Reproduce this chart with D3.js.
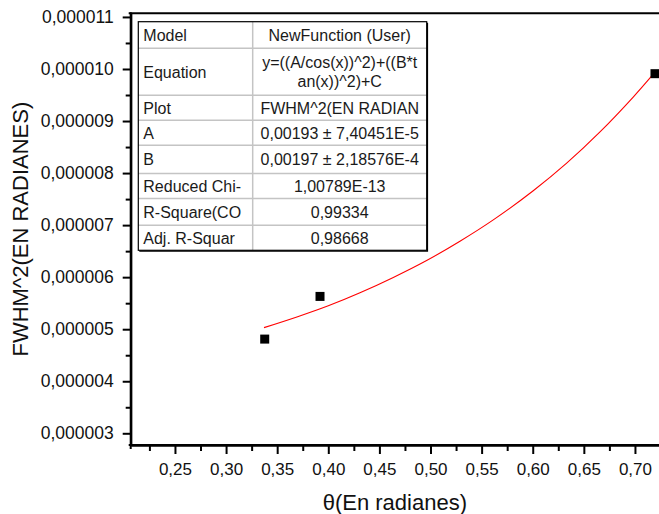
<!DOCTYPE html>
<html>
<head>
<meta charset="utf-8">
<script src="https://cdn.jsdelivr.net/npm/d3@7"></script>
<style>
  html, body { margin: 0; padding: 0; background: #fff; }
  svg { display: block; font-family: "Liberation Sans", Arial, sans-serif; }
</style>
</head>
<body>
<svg id="chart" width="659" height="514"></svg>
<script>
// Measured points: diffraction angle θ (rad) vs FWHM² (rad²)
const thetaValues = [0.3378, 0.3919, 0.7196];
const fwhmSqValues = [4.81e-6, 5.63e-6, 9.91e-6];

// Fitted curve y = (A/cos x)^2 + (B·tan x)^2 + C, sampled along the fitted range
const fitTheta = [0.3371, 0.3700, 0.4000, 0.4310, 0.4636, 0.4962, 0.5288, 0.5614, 0.6005, 0.6332, 0.6658, 0.6983, 0.7179];
const fitValues = [5.03e-6, 5.24e-6, 5.45e-6, 5.70e-6, 5.995e-6, 6.32e-6, 6.69e-6, 7.10e-6, 7.66e-6, 8.19e-6, 8.79e-6, 9.46e-6, 9.90e-6];

// Axis ticks
const xMajorTicks = [0.25, 0.30, 0.35, 0.40, 0.45, 0.50, 0.55, 0.60, 0.65, 0.70];
const xMinorTicks = [0.225, 0.275, 0.325, 0.375, 0.425, 0.475, 0.525, 0.575, 0.625, 0.675, 0.725];
const yMajorTicks = [3e-6, 4e-6, 5e-6, 6e-6, 7e-6, 8e-6, 9e-6, 10e-6, 11e-6];
const yMinorTicks = [3.5e-6, 4.5e-6, 5.5e-6, 6.5e-6, 7.5e-6, 8.5e-6, 9.5e-6, 10.5e-6];

// Fit report table
const tableLabels = ["Model", "Equation", "Plot", "A", "B", "Reduced Chi-", "R-Square(CO", "Adj. R-Squar"];
const tableValues = [
  ["NewFunction (User)"],
  ["y=((A/cos(x))^2)+((B*t", "an(x))^2)+C"],
  ["FWHM^2(EN RADIAN"],
  ["0,00193 \u00B1 7,40451E-5"],
  ["0,00197 \u00B1 2,18576E-4"],
  ["1,00789E-13"],
  ["0,99334"],
  ["0,98668"]
];

const xTitle = "\u03B8(En radianes)";
const yTitle = "FWHM^2(EN RADIANES)";

const locale = d3.formatLocale({ decimal: ",", thousands: ".", grouping: [3], currency: ["", ""] });
const fmtX = locale.format(".2f");
const fmtY = locale.format(".6f");

const svg = d3.select("#chart");

const plotLeft = 130.7, plotBottom = 445, plotTop = 13.3;
const x = d3.scaleLinear().domain([0.2067, 0.73]).range([plotLeft, plotLeft + (0.73 - 0.2067) * 1022.2]);
const y = d3.scaleLinear().domain([2.775e-6, 11.07e-6]).range([plotBottom, plotTop]);
const plotRight = x.range()[1];

// Top frame line
svg.append("line")
  .attr("x1", plotLeft - 2).attr("x2", plotRight)
  .attr("y1", plotTop).attr("y2", plotTop)
  .attr("stroke", "#000").attr("stroke-width", 2);

// X axis: minor ticks, then major ticks with labels
const gxMinor = svg.append("g").attr("transform", `translate(0,${plotBottom})`)
  .call(d3.axisBottom(x).tickValues(xMinorTicks).tickSize(6).tickSizeOuter(0).tickFormat(""));
const gx = svg.append("g").attr("transform", `translate(0,${plotBottom})`)
  .call(d3.axisBottom(x).tickValues(xMajorTicks).tickSize(9).tickSizeOuter(0).tickPadding(9).tickFormat(fmtX));

// Y axis
const gyMinor = svg.append("g").attr("transform", `translate(${plotLeft},0)`)
  .call(d3.axisLeft(y).tickValues(yMinorTicks).tickSize(5).tickSizeOuter(0).tickFormat(""));
const gy = svg.append("g").attr("transform", `translate(${plotLeft},0)`)
  .call(d3.axisLeft(y).tickValues(yMajorTicks).tickSize(8).tickSizeOuter(0).tickPadding(9).tickFormat(fmtY));

[gxMinor, gx, gyMinor, gy].forEach(g => {
  g.selectAll("path.domain").attr("stroke", "#000").attr("stroke-width", 2);
  g.selectAll(".tick line").attr("stroke", "#000").attr("stroke-width", 2);
  g.selectAll(".tick text").attr("fill", "#111")
    .style("font-family", "'Liberation Sans', Arial, sans-serif");
});
gx.selectAll(".tick text").style("font-size", "17px");
gy.selectAll(".tick text").style("font-size", "17.5px");

// Axis line extensions at the corner
svg.append("line").attr("x1", plotLeft).attr("x2", plotLeft).attr("y1", plotTop - 1).attr("y2", plotBottom + 4)
  .attr("stroke", "#000").attr("stroke-width", 2);
svg.append("line").attr("x1", plotLeft - 2).attr("x2", plotRight).attr("y1", plotBottom).attr("y2", plotBottom)
  .attr("stroke", "#000").attr("stroke-width", 2);

// Axis titles
svg.append("text")
  .attr("x", (plotLeft + 659) / 2).attr("y", 510)
  .attr("text-anchor", "middle")
  .style("font-size", "22px").attr("fill", "#111")
  .text(xTitle);

svg.append("text")
  .attr("transform", `translate(28,${(plotTop + plotBottom) / 2}) rotate(-90)`)
  .attr("text-anchor", "middle")
  .style("font-size", "22px").attr("fill", "#111")
  .text(yTitle);

// Fitted curve
const fitLine = d3.line()
  .x((d, i) => x(fitTheta[i]))
  .y(d => y(d))
  .curve(d3.curveCatmullRom.alpha(0.5));
svg.append("path")
  .datum(fitValues)
  .attr("d", fitLine)
  .attr("fill", "none")
  .attr("stroke", "#ff0000")
  .attr("stroke-width", 1.1);

// Data points as filled squares
const sq = 9;
svg.append("g").selectAll("rect")
  .data(fwhmSqValues)
  .join("rect")
  .attr("x", (d, i) => x(thetaValues[i]) - sq / 2)
  .attr("y", d => y(d) - sq / 2)
  .attr("width", sq).attr("height", sq)
  .attr("fill", "#000");

// Fit report table
const tbl = { x0: 138.3, x1: 426.7, xDiv: 252.7, y0: 21.7 };
const rowHeights = [26.6, 47.0, 25.0, 25.0, 28.3, 25.0, 26.7, 25.0];
const rowTops = [];
rowHeights.reduce((acc, h) => { rowTops.push(acc); return acc + h; }, tbl.y0);
const tblBottom = tbl.y0 + d3.sum(rowHeights);

const gt = svg.append("g");
gt.append("rect")
  .attr("x", tbl.x0).attr("y", tbl.y0)
  .attr("width", tbl.x1 - tbl.x0).attr("height", tblBottom - tbl.y0)
  .attr("fill", "#fff");

// inner grid
rowTops.slice(1).forEach(t => {
  gt.append("line").attr("x1", tbl.x0).attr("x2", tbl.x1).attr("y1", t).attr("y2", t)
    .attr("stroke", "#c4c4c4").attr("stroke-width", 1.5);
});
gt.append("line").attr("x1", tbl.xDiv).attr("x2", tbl.xDiv).attr("y1", tbl.y0).attr("y2", tblBottom)
  .attr("stroke", "#c4c4c4").attr("stroke-width", 1.5);

// outer border with slightly heavier right/bottom edge
gt.append("rect")
  .attr("x", tbl.x0).attr("y", tbl.y0)
  .attr("width", tbl.x1 - tbl.x0).attr("height", tblBottom - tbl.y0)
  .attr("fill", "none").attr("stroke", "#000").attr("stroke-width", 1.2);
gt.append("path")
  .attr("d", `M${tbl.x1 + 0.8},${tbl.y0 + 1}V${tblBottom + 0.8}H${tbl.x0 + 1}`)
  .attr("fill", "none").attr("stroke", "#000").attr("stroke-width", 1.2);

const cellFont = "16px";
tableLabels.forEach((lab, i) => {
  const cy = rowTops[i] + rowHeights[i] / 2;
  gt.append("text")
    .attr("x", 143.3).attr("y", cy).attr("dy", "0.36em")
    .style("font-size", cellFont).attr("fill", "#1a1a1a")
    .text(lab);
  const vals = tableValues[i];
  const cx = (tbl.xDiv + tbl.x1) / 2;
  const lineH = 18.5;
  vals.forEach((v, j) => {
    gt.append("text")
      .attr("x", cx)
      .attr("y", cy + (j - (vals.length - 1) / 2) * lineH)
      .attr("dy", "0.36em")
      .attr("text-anchor", "middle")
      .style("font-size", cellFont).attr("fill", "#1a1a1a")
      .text(v);
  });
});
</script>
</body>
</html>
